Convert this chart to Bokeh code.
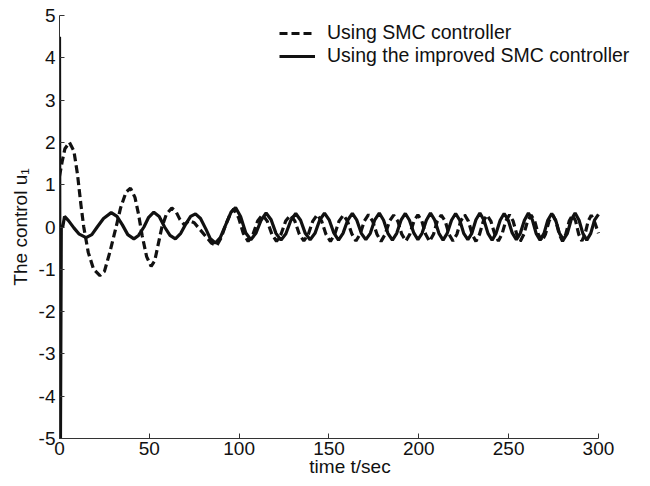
from bokeh.plotting import figure
from bokeh.models import Range1d, FixedTicker, Legend, LegendItem, ColumnDataSource
from bokeh.embed import file_html
from bokeh.resources import INLINE

# ---- data ----
x_ticks = [0, 50, 100, 150, 200, 250, 300]
y_ticks = [-5, -4, -3, -2, -1, 0, 1, 2, 3, 4, 5]
y_tick_labels = ["-5", "-4", "-3", "-2", "-1", "0", "1", "2", "3", "4", "5"]

series_labels = ["Using SMC controller", "Using the improved SMC controller"]

# SMC controller (dashed)
smc_t = [0, 1.5, 3, 5.5, 8, 10, 12, 13.5, 16, 19, 22.5, 25, 28, 31.5, 34, 37, 39.5, 42, 44, 46,
         48.5, 51, 53, 55, 57, 59.5, 62.5, 65, 67, 69.5, 72, 75, 78, 81, 84.5, 87.5, 90, 92.5, 95, 97,
         99.7, 102.3, 105, 107.7, 110.3, 113, 115.6, 118.2, 120.8, 123.3, 125.9,
         128.5, 131, 133.5, 136, 138.5, 141, 143.5, 145.9, 148.3, 150.8, 153.2, 155.6,
         158, 160.3, 162.7, 165, 167.3, 169.7, 172, 174.3, 176.7, 179, 181.3, 183.7,
         186, 188.3, 190.5, 192.8, 195, 197.3, 199.5, 201.7, 203.8, 206, 208.2, 210.3,
         212.5, 214.7, 216.8, 219, 221.2, 223.3, 225.5, 227.6, 229.7, 231.8, 233.8, 235.9,
         238, 240.1, 242.2, 244.3, 246.3, 248.4, 250.5, 252.5, 254.5, 256.5, 258.5, 260.5,
         262.5, 264.5, 266.5, 268.5, 270.5, 272.5, 274.5, 276.3, 278.2, 280, 281.8, 283.7,
         285.5, 287.3, 289, 290.8, 292.5, 294.3, 296, 298, 300]
smc_u = [1.2, 1.55, 1.85, 2.0, 1.8, 1.25, 0.5, 0.0, -0.6, -1.0, -1.15, -1.05, -0.6, 0.0, 0.45, 0.82, 0.92, 0.7, 0.3, -0.2,
         -0.7, -0.93, -0.8, -0.4, 0.0, 0.3, 0.45, 0.35, 0.18, 0.05, 0.15, 0.1, -0.05, -0.2, -0.38, -0.44, -0.25, 0.05, 0.3, 0.43,
         0.22, -0.15, -0.34, -0.17, 0.14, 0.29, 0.14, -0.17, -0.34, -0.17, 0.14,
         0.28, 0.14, -0.17, -0.33, -0.17, 0.14, 0.29, 0.14, -0.17, -0.34, -0.17, 0.14,
         0.28, 0.14, -0.16, -0.33, -0.17, 0.14, 0.29, 0.14, -0.17, -0.34, -0.17, 0.14,
         0.28, 0.14, -0.17, -0.33, -0.17, 0.14, 0.29, 0.14, -0.17, -0.34, -0.17, 0.14,
         0.28, 0.14, -0.17, -0.33, -0.17, 0.14, 0.29, 0.14, -0.17, -0.34, -0.17, 0.14,
         0.28, 0.14, -0.16, -0.33, -0.17, 0.14, 0.29, 0.14, -0.17, -0.34, -0.17, 0.14,
         0.28, 0.14, -0.17, -0.33, -0.17, 0.14, 0.29, 0.14, -0.17, -0.34, -0.17, 0.14,
         0.28, 0.14, -0.17, -0.33, -0.17, 0.14, 0.28, 0.1, -0.15]

# improved SMC controller (solid)
imp_t = [0, 0.4, 1.0, 1.8, 2.8, 5, 8, 11, 14.8, 18, 21, 24.5, 28.8, 32, 35, 38, 41.4, 44, 47, 49.5,
         52.5, 55.5, 58.5, 61.5, 64.5, 67.5, 70, 73, 75.7, 78.5, 81.5, 84, 86.8, 89.5, 92.5, 95.5,
         98, 100.8, 103.7, 106.5, 109.3, 112.2, 115, 117.8, 120.5, 123.3, 126, 128.8,
         131.5, 134.2, 136.8, 139.5, 142.2, 144.8, 147.5, 150.1, 152.7, 155.3, 157.8, 160.4,
         163, 165.5, 168, 170.5, 173, 175.5, 178, 180.4, 182.8, 185.3, 187.7, 190.1,
         192.5, 194.8, 197.2, 199.5, 201.8, 204.2, 206.5, 208.8, 211.2, 213.5, 215.8, 218.2,
         220.5, 222.8, 225, 227.3, 229.5, 231.8, 234, 236.3, 238.5, 240.8, 243, 245.3,
         247.5, 249.8, 252, 254.3, 256.5, 258.8, 261, 263.2, 265.3, 267.5, 269.7, 271.8,
         274, 276.2, 278.3, 280.5, 282.7, 284.8, 287, 289.2, 291.3, 293.5, 295.7, 297.8, 300]
imp_u = [4.5, -6.5, 0.0, 0.0, 0.25, 0.15, -0.02, -0.17, -0.25, -0.18, 0.0, 0.2, 0.34, 0.25, 0.05, -0.18, -0.28, -0.2, 0.0, 0.22,
         0.35, 0.25, 0.0, -0.2, -0.28, -0.15, 0.05, 0.25, 0.31, 0.2, -0.05, -0.28, -0.38, -0.25, 0.05, 0.35,
         0.46, 0.25, -0.14, -0.30, -0.15, 0.16, 0.33, 0.17, -0.15, -0.31, -0.16, 0.16,
         0.32, 0.16, -0.15, -0.30, -0.15, 0.16, 0.33, 0.17, -0.14, -0.31, -0.15, 0.16,
         0.32, 0.16, -0.15, -0.30, -0.15, 0.17, 0.33, 0.16, -0.15, -0.31, -0.15, 0.16,
         0.32, 0.16, -0.14, -0.30, -0.15, 0.16, 0.33, 0.17, -0.15, -0.31, -0.15, 0.16,
         0.32, 0.16, -0.15, -0.30, -0.15, 0.17, 0.33, 0.16, -0.15, -0.31, -0.15, 0.16,
         0.32, 0.16, -0.14, -0.30, -0.15, 0.16, 0.33, 0.17, -0.15, -0.31, -0.15, 0.16,
         0.32, 0.16, -0.15, -0.30, -0.15, 0.17, 0.33, 0.16, -0.15, -0.31, -0.15, 0.16, 0.30]

FONT = "Liberation Sans"

# the frame runs a little past t=300 so the legend (which in the reference
# overhangs the axes box) is not clipped; the x axis itself stops at 300
X_MAX = 300
X_VIEW_END = 323.4

p = figure(frame_width=581, frame_height=423,
           x_range=Range1d(0, X_VIEW_END), y_range=Range1d(-5, 5),
           output_backend="svg", toolbar_location=None,
           min_border_left=59, min_border_top=15, min_border_right=5, min_border_bottom=4)
p.outline_line_color = None
p.grid.visible = False
p.background_fill_color = "white"
p.border_fill_color = "white"

src_smc = ColumnDataSource(dict(t=smc_t, u=smc_u))
src_imp = ColumnDataSource(dict(t=imp_t, u=imp_u))

r_smc = p.line("t", "u", source=src_smc, line_color="#111111", line_width=3.2, line_dash="8 4")
r_imp = p.line("t", "u", source=src_imp, line_color="#111111", line_width=3.2)

p.xaxis.ticker = FixedTicker(ticks=x_ticks)
p.yaxis.ticker = FixedTicker(ticks=y_ticks)
p.yaxis.major_label_overrides = dict(zip(y_ticks, y_tick_labels))
p.xaxis.bounds = (0, X_MAX)
p.xaxis.axis_label = "time t/sec"
p.yaxis.axis_label = "The control u\u2081"
for ax in (p.xaxis, p.yaxis):
    ax.major_tick_in = 5
    ax.major_tick_out = 0
    ax.minor_tick_line_color = None
    ax.axis_line_color = "#333333"
    ax.major_tick_line_color = "#333333"
    ax.major_label_text_font = FONT
    ax.major_label_text_font_size = "19px"
    ax.major_label_text_color = "#111111"
    ax.axis_label_text_font = FONT
    ax.axis_label_text_font_size = "19px"
    ax.axis_label_text_font_style = "normal"
    ax.axis_label_text_color = "#111111"
p.xaxis.major_label_standoff = 3
p.xaxis.axis_label_standoff = -2
p.yaxis.major_label_standoff = 4
p.yaxis.axis_label_standoff = 5

legend = Legend(items=[LegendItem(label=series_labels[0], renderers=[r_smc]),
                       LegendItem(label=series_labels[1], renderers=[r_imp])],
                location=(220, 371))
legend.border_line_color = None
legend.background_fill_alpha = 0
legend.padding = 0
legend.margin = 0
legend.spacing = -2
legend.glyph_width = 36
legend.glyph_height = 20
legend.label_height = 20
legend.label_standoff = 12
legend.label_text_font = FONT
legend.label_text_font_size = "19.5px"
legend.label_text_color = "#111111"
p.add_layout(legend)

open("out.html", "w").write(file_html(p, INLINE))
